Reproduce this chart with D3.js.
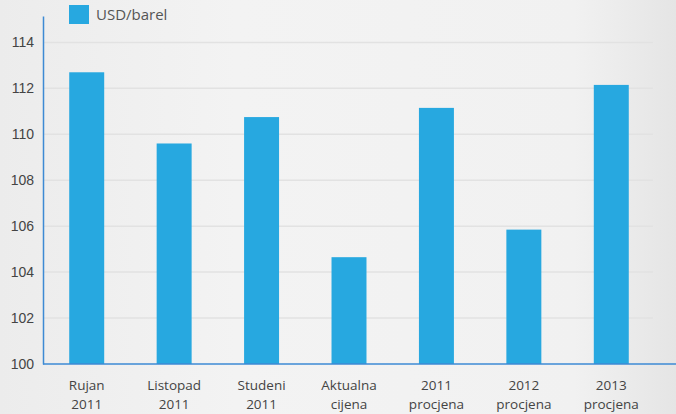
<!DOCTYPE html>
<html>
<head>
<meta charset="utf-8">
<script src="https://cdn.jsdelivr.net/npm/d3@7"></script>
<style>
  body { margin: 0; background: #efefef; }
  svg { display: block; font-family: "Open Sans", "Noto Sans", sans-serif; }
</style>
</head>
<body>
<div id="chart"></div>
<script>
// Data
//-------------------------------------------------------
var categories = [
    ["Rujan", "2011"],
    ["Listopad", "2011"],
    ["Studeni", "2011"],
    ["Aktualna", "cijena"],
    ["2011", "procjena"],
    ["2012", "procjena"],
    ["2013", "procjena"]
];
var prices = [112.7, 109.6, 110.75, 104.65, 111.15, 105.85, 112.15];
var yTicks = [100, 102, 104, 106, 108, 110, 112, 114];
var seriesName = "USD/barel";

// SVG
//-------------------------------------------------------
var svgWidth = 676;
var svgHeight = 414;
var margin = { top: 16, right: 21, bottom: 50, left: 43 };
var chartWidth = svgWidth - margin.left - margin.right;
var chartHeight = svgHeight - margin.top - margin.bottom;

var svg = d3.select("#chart")
    .append("svg")
    .attr("width", svgWidth)
    .attr("height", svgHeight);

// background gradient
var defs = svg.append("defs");
var grad = defs.append("linearGradient").attr("id", "bg").attr("x1", 0).attr("x2", 1).attr("y1", 0).attr("y2", 0);
grad.append("stop").attr("offset", "0%").attr("stop-color", "#ececec");
grad.append("stop").attr("offset", "35%").attr("stop-color", "#f3f3f3");
grad.append("stop").attr("offset", "85%").attr("stop-color", "#f1f1f1");
grad.append("stop").attr("offset", "100%").attr("stop-color", "#e5e5e5");
svg.append("rect").attr("width", svgWidth).attr("height", svgHeight).attr("fill", "url(#bg)");

var chartGroup = svg.append("g")
    .attr("transform", `translate(${margin.left}, ${margin.top})`);

// Scales
//-------------------------------------------------------
var xBand = d3.scaleBand()
    .domain(d3.range(categories.length))
    .range([0, chartWidth])
    .paddingInner(0.6)
    .paddingOuter(0.3);

var yLinear = d3.scaleLinear()
    .domain([100, 115.15])
    .range([chartHeight, 0]);

// Gridlines
chartGroup.append("g")
    .selectAll("line")
    .data(yTicks.slice(1))
    .enter()
    .append("line")
    .attr("x1", 0)
    .attr("x2", chartWidth - 2)
    .attr("y1", d => yLinear(d))
    .attr("y2", d => yLinear(d))
    .attr("stroke", "#e2e2e2")
    .attr("stroke-width", 1.5);

// Bars
chartGroup.selectAll("rect.bar")
    .data(prices)
    .enter()
    .append("rect")
    .attr("class", "bar")
    .attr("x", (d, i) => xBand(i))
    .attr("width", xBand.bandwidth())
    .attr("y", d => yLinear(d))
    .attr("height", d => chartHeight - yLinear(d))
    .attr("fill", "#27a8e0");

// Y axis
var leftAxis = d3.axisLeft(yLinear).tickValues(yTicks).tickSize(0).tickPadding(9);
var yAxis = chartGroup.append("g").call(leftAxis);
yAxis.select(".domain").attr("stroke", "#3d8ad4").attr("stroke-width", 1.5);
yAxis.selectAll("text")
    .attr("fill", "#444")
    .style("font-size", "14px");

// X axis line (full width)
chartGroup.append("line")
    .attr("x1", 0)
    .attr("x2", svgWidth - margin.left)
    .attr("y1", chartHeight)
    .attr("y2", chartHeight)
    .attr("stroke", "#3d8ad4")
    .attr("stroke-width", 1.5);

// X labels, two lines each
var xLabels = chartGroup.append("g")
    .selectAll("g")
    .data(categories)
    .enter()
    .append("g")
    .attr("transform", (d, i) => `translate(${xBand(i) + xBand.bandwidth() / 2}, ${chartHeight + 26})`);

[0, 1].forEach(function(line) {
    xLabels.append("text")
        .attr("text-anchor", "middle")
        .attr("fill", "#444")
        .style("font-size", "13.5px")
        .attr("y", line * 18.5)
        .text(d => d[line]);
});

// Legend
var legend = svg.append("g").attr("transform", "translate(69, 5)");
legend.append("rect").attr("width", 20).attr("height", 19).attr("fill", "#27a8e0");
legend.append("text")
    .attr("x", 27)
    .attr("y", 15)
    .attr("fill", "#555")
    .style("font-size", "15px")
    .text(seriesName);
</script>
</body>
</html>
